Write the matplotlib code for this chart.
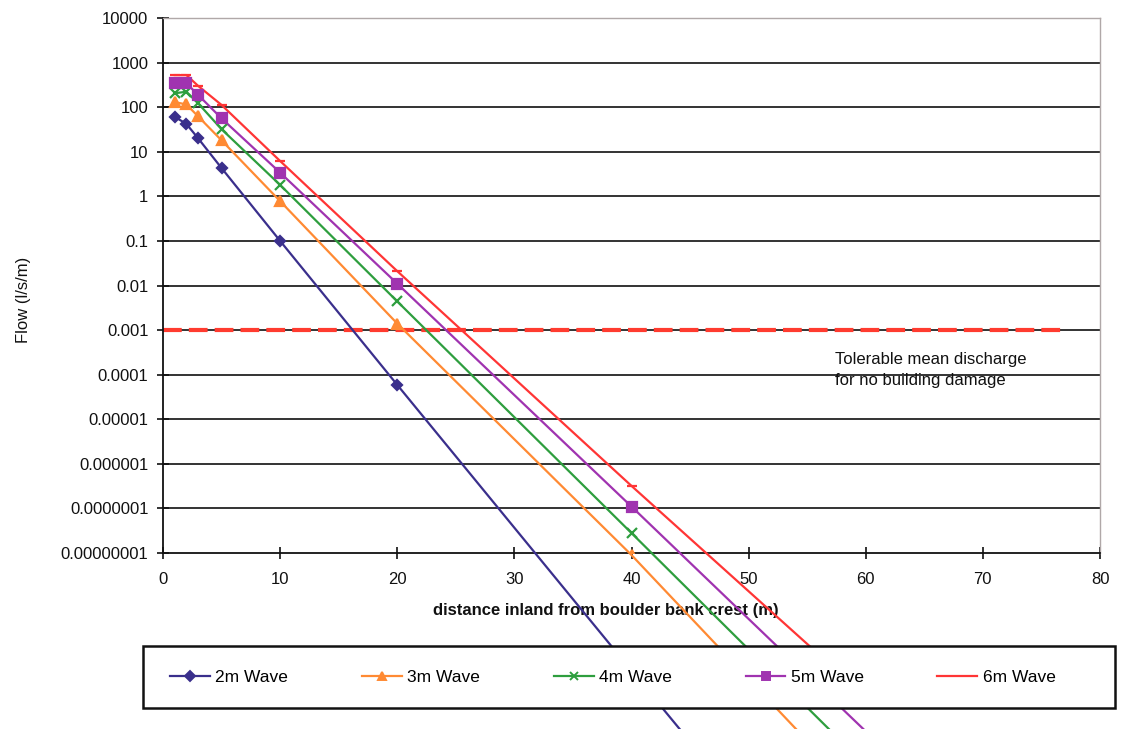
import matplotlib
matplotlib.use("Agg")
import matplotlib.pyplot as plt
from matplotlib.patches import Rectangle
from matplotlib.ticker import FixedLocator, NullLocator, FixedFormatter
from matplotlib.lines import Line2D

plt.rcParams['font.family'] = ['Liberation Sans', 'DejaVu Sans']

# ---- data ----
series_names = ["2m Wave", "3m Wave", "4m Wave", "5m Wave", "6m Wave"]
x_2m = [1, 2, 3, 5, 10, 20, 40, 50]
y_2m = [61, 42, 20, 4.3, 0.1, 5.9e-5, 2.3e-11, 1.5e-14]
x_3m = [1, 2, 3, 5, 10, 20, 40, 60]
y_3m = [130, 115, 62, 18, 0.78, 1.4e-3, 9e-9, 2.5e-14]
x_4m = [1, 2, 3, 5, 10, 20, 40, 60]
y_4m = [205, 222, 122, 32, 1.8, 4.4e-3, 2.8e-8, 1.7e-13]
x_5m = [1, 2, 3, 5, 10, 20, 40, 60]
y_5m = [343, 343, 188, 56, 3.4, 1.1e-2, 1.1e-7, 1.0e-12]
x_6m = [1, 2, 3, 5, 10, 20, 40, 60]
y_6m = [525, 525, 300, 112, 6.2, 2.1e-2, 3.2e-7, 6e-12]

tolerable_x = [0, 77]
tolerable_y = [0.001, 0.001]

y_ticks = [1e4, 1e3, 1e2, 1e1, 1, 1e-1, 1e-2, 1e-3, 1e-4, 1e-5, 1e-6, 1e-7, 1e-8]
y_tick_labels = ["10000", "1000", "100", "10", "1", "0.1", "0.01", "0.001",
                 "0.0001", "0.00001", "0.000001", "0.0000001", "0.00000001"]
x_ticks = [0, 10, 20, 30, 40, 50, 60, 70, 80]

# ---- styles ----
colors = ['#3a2f8c', '#ff8a33', '#2e9e3e', '#a033b0', '#ff3535']
markers = ['D', '^', 'x', 's', '_']
msizes = [5.5, 7, 7, 6.5, 7]

W, H = 1125, 729
fig = plt.figure(figsize=(W / 100, H / 100), dpi=100)
ax = fig.add_axes([163 / W, 1 - 553 / H, (1100 - 163) / W, (553 - 18) / H])

ax.set_yscale('log')
ax.set_xlim(0, 80)
ax.set_ylim(1e-8, 1e4)

# gridlines
for yv in y_ticks[1:-1]:
    ax.axhline(yv, color='#111111', lw=1.2, zorder=1)

# tolerable discharge line
ax.plot(tolerable_x, tolerable_y, color='#ff3b2f', lw=3.0, dashes=(4.5, 1.7),
        zorder=2, solid_capstyle='butt', dash_capstyle='butt')

xs = [x_2m, x_3m, x_4m, x_5m, x_6m]
ys = [y_2m, y_3m, y_4m, y_5m, y_6m]
for i in range(5):
    ax.plot(xs[i], ys[i], color=colors[i], lw=1.6, clip_on=False, zorder=3)
    ax.plot(xs[i], ys[i], linestyle='none', marker=markers[i], ms=msizes[i],
            color=colors[i], mec=colors[i], mew=1.6, clip_on=True, zorder=4)

ax.text(57.4, 10 ** -3.67, "Tolerable mean discharge", fontsize=12,
        va='center', ha='left', color='#111111')
ax.text(57.4, 10 ** -4.14, "for no building damage", fontsize=12,
        va='center', ha='left', color='#111111')

# axes cosmetics
ax.yaxis.set_major_locator(FixedLocator(y_ticks))
ax.yaxis.set_major_formatter(FixedFormatter(y_tick_labels))
ax.yaxis.set_minor_locator(NullLocator())
ax.set_yticks(y_ticks)
ax.set_yticklabels(y_tick_labels)
ax.set_xticks(x_ticks)
ax.set_xticklabels([str(v) for v in x_ticks])
ax.tick_params(axis='both', direction='inout', length=9, width=1.2,
               color='#111111', labelsize=12, labelcolor='#111111')
ax.tick_params(axis='y', pad=6)
ax.tick_params(axis='x', pad=9)

for s in ['left', 'bottom']:
    ax.spines[s].set_color('#111111')
    ax.spines[s].set_linewidth(1.3)
for s in ['top', 'right']:
    ax.spines[s].set_color('#b0a8a8')
    ax.spines[s].set_linewidth(1.0)
ax.set_facecolor('white')

ax.set_xlabel("distance inland from boulder bank crest (m)", fontsize=12,
              fontweight='bold', color='#111111')
ax.xaxis.set_label_coords((606 - 163) / (1100 - 163), -(603 - 553) / (553 - 18))
ax.set_ylabel("Flow (l/s/m)", fontsize=12, color='#111111')
ax.yaxis.set_label_coords(-(163 - 31) / (1100 - 163), (553 - 300) / (553 - 18))

# legend frame drawn on top of the overflowing lines
frame = Rectangle((143 / W, 1 - 708 / H), (1115 - 143) / W, (708 - 646) / H,
                  transform=fig.transFigure, facecolor='white',
                  edgecolor='#111111', lw=1.8, zorder=2)
fig.patches.append(frame)

handles = [Line2D([], [], color=colors[i], lw=1.6, marker=markers[i],
                  ms=msizes[i] * 0.85, mew=1.4) for i in range(5)]
leg = fig.legend(handles, series_names, loc='center left',
                 bbox_to_anchor=(158 / W, 1 - 677 / H), ncol=5, frameon=False,
                 fontsize=12.5, handlelength=2.3, handletextpad=0.3,
                 columnspacing=4.25, borderpad=0.2)
leg.set_zorder(5)

fig.savefig("out.png", dpi=100, facecolor='white')
